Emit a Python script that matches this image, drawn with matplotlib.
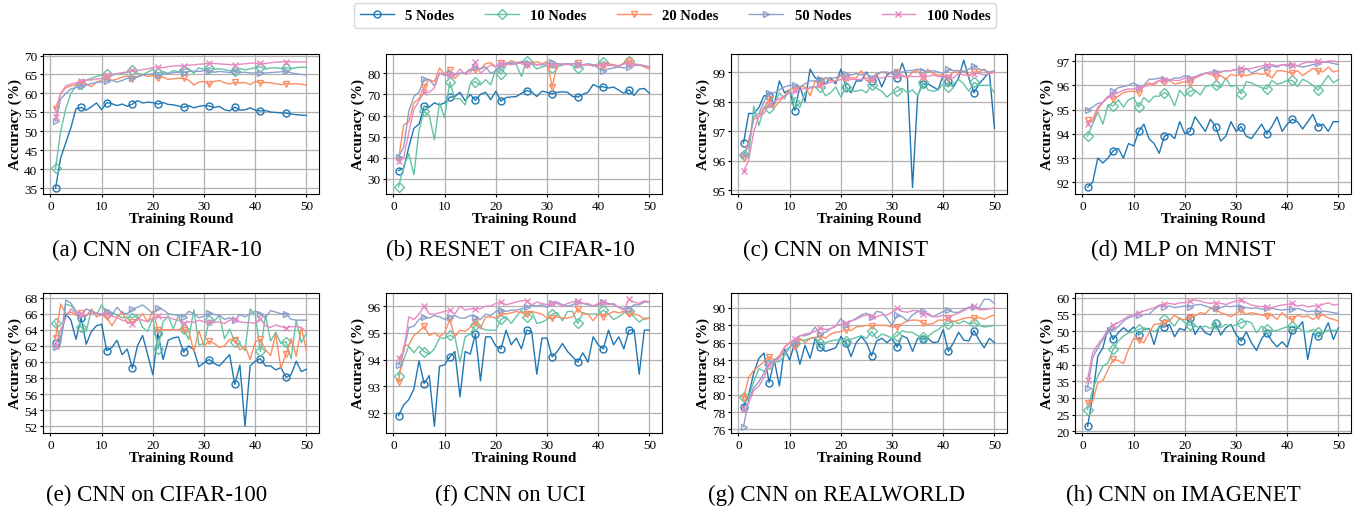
import numpy as np
import matplotlib
matplotlib.use('Agg')
import matplotlib.pyplot as plt

#=========================================================================
# data, one list per node count, 50 training rounds

rounds = np.arange(1, 51)

node_labels = ['5 Nodes', '10 Nodes', '20 Nodes', '50 Nodes', '100 Nodes']

captions = ['(a) CNN on CIFAR-10', '(b) RESNET on CIFAR-10', '(c) CNN on MNIST', '(d) MLP on MNIST',
            '(e) CNN on CIFAR-100', '(f) CNN on UCI', '(g) CNN on REALWORLD', '(h) CNN on IMAGENET']

# (a) CNN on CIFAR-10
cifar10_cnn_5 = [35.0, 43.0, 47.0, 51.0, 56.0, 56.3, 55.6, 56.5, 57.5, 55.7, 57.6, 57.3, 56.8, 57.2, 56.6, 57.2, 58.1, 57.5, 57.7, 57.6,
                 57.2, 57.6, 57.1, 57.0, 56.7, 56.3, 56.8, 56.2, 56.6, 56.8, 56.7, 56.3, 56.6, 55.7, 55.4, 56.4, 55.6, 55.7, 56.2, 55.6,
                 55.4, 55.5, 55.1, 55.0, 54.9, 54.8, 54.6, 54.4, 54.3, 54.2]
cifar10_cnn_10 = [40.3, 50.0, 56.0, 60.0, 62.0, 62.5, 63.5, 64.0, 64.5, 64.8, 65.0, 64.8, 65.1, 65.3, 65.5, 66.1, 65.3, 65.0, 65.6, 66.4,
                  65.4, 65.8, 65.3, 66.0, 65.7, 66.3, 66.5, 65.3, 66.8, 66.3, 66.8, 66.4, 66.5, 66.3, 66.0, 66.0, 66.6, 66.2, 66.5, 66.8,
                  67.0, 66.5, 66.7, 66.8, 66.6, 66.8, 66.5, 66.8, 66.9, 66.9]
cifar10_cnn_20 = [56.0, 60.0, 61.5, 62.0, 62.3, 62.8, 62.5, 61.8, 63.0, 63.5, 64.3, 63.4, 63.8, 64.3, 64.6, 63.8, 64.5, 64.9, 64.5, 64.7,
                  64.1, 64.3, 63.7, 63.9, 64.0, 64.0, 63.5, 62.2, 63.0, 63.2, 62.4, 63.2, 63.4, 62.8, 62.5, 62.9, 62.8, 62.9, 62.3, 63.2,
                  62.8, 62.9, 62.8, 62.6, 62.3, 62.6, 62.5, 62.6, 62.4, 62.2]
cifar10_cnn_50 = [52.8, 58.5, 60.0, 61.2, 61.5, 62.0, 62.2, 62.6, 62.9, 63.0, 63.2, 63.5, 63.0, 63.4, 64.0, 64.0, 64.3, 64.8, 65.0, 65.2,
                  64.8, 65.3, 65.2, 65.5, 65.6, 65.5, 65.8, 65.9, 65.8, 66.0, 65.9, 65.6, 65.8, 65.7, 65.5, 65.8, 65.5, 65.6, 65.4, 65.4,
                  65.5, 65.4, 65.5, 65.6, 65.7, 65.9, 65.4, 65.2, 65.0, 64.9]
cifar10_cnn_100 = [53.8, 60.0, 62.0, 62.5, 62.8, 63.3, 63.5, 63.6, 63.8, 64.0, 64.8, 65.0, 65.2, 65.5, 65.7, 66.1, 66.0, 66.3, 66.5, 66.8,
                   67.0, 66.8, 67.1, 67.2, 67.3, 67.3, 67.5, 67.5, 67.7, 67.8, 68.0, 67.9, 67.8, 67.7, 67.6, 67.5, 67.7, 67.8, 68.0, 68.0,
                   67.9, 67.9, 68.1, 68.2, 68.3, 68.4, 68.3, 68.3, 68.3, 68.3]

# (b) RESNET on CIFAR-10
cifar10_resnet_5 = [34.0, 35.0, 45.0, 54.0, 56.0, 64.5, 64.0, 66.0, 65.0, 66.0, 68.7, 69.0, 71.0, 67.0, 70.0, 67.2, 70.0, 71.0, 67.5, 71.5,
                    66.8, 68.5, 68.8, 69.0, 70.5, 71.8, 71.2, 69.0, 71.5, 71.0, 70.3, 71.0, 71.2, 71.0, 69.0, 68.8, 70.0, 71.0, 74.7, 73.5,
                    73.6, 73.0, 73.5, 72.0, 70.5, 72.2, 69.5, 72.5, 72.8, 70.5]
cifar10_resnet_10 = [26.2, 36.0, 42.0, 32.0, 53.0, 62.0, 60.0, 48.5, 66.0, 59.0, 76.0, 68.0, 68.0, 65.0, 75.0, 76.0, 74.5, 77.0, 74.5, 82.0,
                     79.5, 84.0, 85.0, 84.0, 78.5, 86.0, 84.5, 82.0, 83.0, 83.5, 82.5, 83.0, 84.0, 84.5, 83.5, 82.5, 84.0, 84.0, 83.5, 84.5,
                     85.5, 84.5, 83.5, 83.5, 84.5, 86.0, 84.0, 84.0, 83.5, 83.0]
cifar10_resnet_20 = [39.0, 55.5, 57.0, 66.0, 68.0, 73.5, 77.0, 76.0, 82.5, 79.5, 81.5, 77.5, 80.0, 80.0, 82.0, 81.5, 82.0, 84.5, 85.0, 83.0,
                     85.0, 84.0, 86.0, 85.0, 84.5, 84.0, 85.0, 85.5, 84.5, 85.5, 73.5, 84.5, 84.0, 84.5, 84.5, 85.0, 84.0, 84.0, 84.0, 83.5,
                     83.5, 84.5, 84.0, 83.0, 85.0, 86.0, 84.5, 84.0, 83.0, 82.0]
cifar10_resnet_50 = [40.5, 45.0, 62.0, 69.0, 71.0, 77.5, 77.0, 74.0, 80.0, 79.0, 80.0, 79.5, 80.0, 80.0, 81.5, 83.0, 82.0, 83.0, 80.0, 81.0,
                     83.5, 85.0, 84.5, 85.0, 85.5, 84.5, 85.0, 84.0, 84.0, 84.5, 85.5, 84.5, 84.0, 84.5, 84.5, 84.5, 84.0, 84.5, 84.0, 82.5,
                     81.0, 82.0, 82.5, 83.0, 82.5, 83.0, 83.5, 84.0, 83.5, 83.0]
cifar10_resnet_100 = [38.5, 40.0, 52.0, 63.0, 67.0, 71.0, 71.0, 73.0, 80.0, 80.0, 79.0, 79.0, 82.0, 79.5, 80.0, 85.5, 80.0, 82.0, 84.0, 83.0,
                      85.0, 84.5, 84.0, 84.5, 85.0, 84.5, 84.5, 84.0, 84.5, 83.5, 84.0, 84.0, 84.5, 84.0, 84.5, 84.0, 84.0, 84.0, 83.5, 84.0,
                      84.0, 83.5, 84.0, 83.5, 84.5, 84.5, 84.0, 84.0, 83.5, 82.5]

# (c) CNN on MNIST
mnist_cnn_5 = [96.6, 97.6, 97.6, 97.8, 98.2, 98.2, 97.9, 98.7, 98.3, 98.4, 97.7, 98.5, 98.0, 99.1, 98.8, 98.7, 98.6, 98.8, 98.6, 99.1,
               98.5, 98.3, 98.7, 98.7, 99.0, 98.7, 98.9, 98.5, 98.9, 99.0, 98.8, 99.3, 98.8, 95.1, 98.2, 98.6, 98.6, 98.5, 98.4, 98.9,
               98.7, 98.5, 98.8, 99.4, 98.8, 98.3, 98.6, 98.8, 99.0, 97.1]
mnist_cnn_10 = [96.2, 96.2, 97.85, 97.2, 97.8, 97.8, 97.9, 98.3, 98.1, 98.4, 98.0, 97.8, 98.3, 98.5, 98.5, 98.5, 98.2, 98.3, 98.5, 98.15,
                98.5, 98.35, 98.35, 98.4, 98.3, 98.55, 98.45, 98.35, 98.15, 98.3, 98.35, 98.45, 98.3, 98.4, 98.2, 98.65, 98.4, 98.35, 98.4, 98.6,
                98.5, 98.6, 98.75, 98.6, 98.35, 98.65, 98.55, 98.55, 98.55, 98.3]
mnist_cnn_20 = [96.1, 96.7, 97.4, 97.5, 97.8, 98.1, 97.8, 98.0, 98.2, 98.4, 98.45, 98.5, 98.5, 98.2, 98.7, 98.6, 98.8, 98.7, 98.7, 98.9,
                98.8, 98.8, 98.8, 99.05, 98.7, 98.75, 98.9, 99.0, 98.95, 99.0, 99.0, 98.9, 98.8, 99.0, 99.05, 98.8, 99.1, 98.95, 98.9, 98.9,
                98.8, 99.0, 99.0, 99.05, 98.85, 99.0, 99.0, 99.1, 98.95, 99.0]
mnist_cnn_50 = [96.2, 96.5, 97.5, 97.6, 98.0, 98.3, 98.3, 98.4, 98.5, 98.55, 98.55, 98.5, 98.6, 98.7, 98.7, 98.75, 98.8, 98.8, 98.8, 98.9,
                98.95, 98.9, 98.95, 98.9, 98.95, 98.8, 98.95, 99.0, 99.0, 98.95, 99.0, 99.0, 99.05, 99.05, 99.1, 99.05, 99.0, 99.05, 99.0, 98.95,
                99.1, 99.05, 99.05, 99.0, 99.1, 99.2, 99.1, 99.05, 99.0, 99.05]
mnist_cnn_100 = [95.65, 96.0, 97.0, 97.5, 97.6, 97.9, 98.0, 98.1, 98.2, 98.3, 98.35, 98.4, 98.45, 98.45, 98.5, 98.55, 98.6, 98.65, 98.7, 98.75,
                 98.8, 98.75, 98.75, 98.75, 98.8, 98.75, 98.8, 98.8, 98.85, 98.85, 98.85, 98.85, 98.85, 98.85, 98.85, 98.85, 98.85, 98.9, 98.85, 98.85,
                 98.85, 98.8, 98.95, 98.9, 98.9, 98.95, 98.95, 98.9, 98.95, 99.0]

# (d) MLP on MNIST
mnist_mlp_5 = [91.8, 92.0, 93.0, 92.8, 93.0, 93.3, 93.4, 93.0, 93.6, 93.5, 94.1, 94.4, 93.8, 93.6, 93.2, 93.9, 94.0, 93.8, 94.5, 94.0,
               94.1, 94.7, 94.4, 94.1, 94.6, 94.3, 93.7, 93.9, 94.5, 94.1, 94.3, 93.9, 93.8, 94.1, 94.4, 94.0, 94.3, 94.7, 94.1, 94.4,
               94.6, 94.5, 94.2, 94.5, 94.8, 94.3, 94.4, 94.1, 94.5, 94.5]
mnist_mlp_10 = [93.9, 94.4, 94.9, 94.4, 95.2, 95.15, 95.4, 95.1, 95.4, 95.5, 95.1, 95.5, 95.3, 95.55, 95.55, 95.7, 95.6, 95.15, 95.8, 95.55,
                95.75, 95.8, 95.6, 95.95, 96.0, 96.0, 95.9, 96.3, 95.95, 96.0, 95.65, 96.15, 96.1, 96.0, 95.9, 95.85, 96.2, 96.05, 96.1, 96.2,
                96.2, 95.95, 96.25, 96.15, 96.0, 95.8, 96.1, 96.4, 96.1, 96.25]
mnist_mlp_20 = [94.55, 94.5, 95.0, 95.3, 95.55, 95.45, 95.55, 95.7, 95.75, 95.75, 95.7, 95.95, 96.1, 96.0, 96.2, 96.15, 96.2, 96.05, 96.1, 96.15,
                96.1, 96.3, 96.4, 96.5, 96.45, 96.35, 96.4, 96.25, 96.45, 96.4, 96.45, 96.4, 96.45, 96.5, 96.45, 96.5, 96.3, 96.6, 96.6, 96.55,
                96.5, 96.6, 96.4, 96.55, 96.7, 96.6, 96.55, 96.75, 96.55, 96.6]
mnist_mlp_50 = [95.0, 95.1, 95.25, 95.3, 95.5, 95.75, 95.9, 95.95, 96.0, 96.1, 95.95, 96.0, 96.25, 96.25, 96.3, 96.25, 96.2, 96.3, 96.3, 96.4,
                96.3, 96.35, 96.45, 96.5, 96.55, 96.55, 96.55, 96.6, 96.6, 96.65, 96.65, 96.7, 96.5, 96.6, 96.7, 96.75, 96.8, 96.75, 96.85, 96.8,
                96.85, 96.8, 96.75, 96.8, 96.85, 96.9, 96.95, 96.95, 96.9, 96.85]
mnist_mlp_100 = [94.4, 94.6, 95.1, 95.3, 95.5, 95.6, 95.7, 95.8, 95.85, 95.85, 95.9, 95.95, 96.0, 96.1, 96.2, 96.2, 96.25, 96.2, 96.2, 96.3,
                 96.25, 96.35, 96.4, 96.5, 96.5, 96.5, 96.55, 96.6, 96.6, 96.65, 96.7, 96.65, 96.7, 96.75, 96.8, 96.85, 96.85, 96.8, 96.85, 96.85,
                 96.85, 96.8, 96.9, 96.95, 96.95, 97.0, 96.95, 97.0, 97.0, 96.95]

# (e) CNN on CIFAR-100
cifar100_cnn_5 = [62.3, 63.0, 66.0, 65.2, 62.8, 65.5, 62.2, 63.8, 64.5, 64.7, 61.4, 61.8, 62.7, 60.9, 61.6, 59.2, 62.0, 63.3, 60.9, 58.4,
                  63.6, 60.3, 62.7, 63.0, 63.1, 61.2, 62.0, 61.5, 59.4, 59.9, 60.3, 59.8, 59.5, 60.2, 60.9, 57.2, 59.6, 52.0, 59.5, 60.1,
                  60.4, 59.5, 59.5, 59.0, 59.3, 58.1, 58.4, 60.1, 58.8, 59.1]
cifar100_cnn_10 = [64.9, 62.5, 67.2, 67.0, 66.3, 64.3, 63.8, 66.5, 65.8, 67.1, 66.0, 66.2, 65.8, 65.5, 65.6, 65.5, 65.8, 64.3, 63.8, 65.5,
                   61.6, 65.0, 65.7, 64.1, 65.8, 64.1, 62.8, 66.5, 62.1, 62.3, 65.2, 65.1, 65.8, 62.9, 64.1, 62.5, 62.2, 61.4, 66.6, 65.8,
                   61.3, 65.8, 62.6, 63.7, 62.3, 62.5, 60.4, 65.2, 62.4, 63.6]
cifar100_cnn_20 = [63.0, 67.2, 66.0, 66.2, 65.8, 66.1, 65.7, 66.6, 65.6, 65.9, 65.6, 64.5, 65.5, 66.3, 64.8, 65.0, 65.2, 66.0, 65.0, 66.3,
                   64.0, 64.0, 64.0, 64.0, 64.0, 64.0, 63.9, 61.3, 63.9, 62.0, 62.6, 62.3, 61.8, 62.0, 62.8, 62.7, 61.5, 62.0, 60.3, 62.5,
                   62.8, 61.5, 60.8, 63.5, 59.2, 61.0, 62.9, 60.7, 64.3, 61.4]
cifar100_cnn_50 = [61.9, 62.5, 67.7, 67.3, 66.3, 65.8, 66.6, 66.3, 66.1, 65.8, 66.3, 65.8, 66.8, 66.1, 66.0, 66.6, 66.8, 67.1, 66.6, 66.0,
                   66.7, 66.5, 66.0, 65.9, 65.8, 65.6, 66.3, 66.0, 65.5, 65.7, 66.1, 65.9, 65.8, 65.3, 65.5, 65.2, 65.9, 65.6, 66.0, 66.3,
                   66.0, 65.5, 66.4, 66.2, 66.0, 66.0, 65.3, 65.2, 65.2, 65.2]
cifar100_cnn_100 = [62.0, 64.0, 65.5, 66.6, 66.0, 66.0, 65.8, 66.1, 66.0, 66.0, 66.0, 65.7, 65.5, 65.2, 65.0, 64.7, 65.3, 65.2, 65.0, 65.5,
                    65.7, 65.5, 65.6, 65.3, 65.2, 64.8, 65.0, 64.9, 65.2, 65.0, 65.0, 64.9, 65.0, 64.8, 65.2, 65.3, 65.0, 64.9, 64.9, 64.8,
                    65.4, 64.5, 64.3, 64.6, 64.4, 64.2, 64.4, 64.4, 64.3, 63.7]

# (f) CNN on UCI
uci_cnn_5 = [91.9, 92.3, 92.5, 92.9, 93.95, 93.1, 93.4, 91.5, 93.75, 93.8, 94.1, 94.3, 92.6, 94.3, 94.2, 94.95, 93.2, 94.85, 94.85, 94.5,
             94.4, 95.1, 94.55, 94.8, 94.4, 95.1, 95.05, 93.45, 94.8, 94.8, 94.1, 94.3, 94.6, 94.3, 94.1, 93.9, 94.25, 93.9, 94.85, 94.55,
             94.4, 95.1, 94.55, 94.85, 94.4, 95.1, 95.1, 93.45, 95.1, 95.1]
uci_cnn_10 = [93.4, 94.0, 94.5, 94.25, 94.5, 94.3, 94.2, 94.4, 94.8, 94.8, 94.9, 94.85, 93.9, 94.85, 94.95, 95.3, 95.2, 95.1, 95.1, 95.1,
              95.5, 95.6, 95.35, 95.6, 95.85, 95.6, 95.8, 95.35, 95.4, 95.5, 95.7, 95.75, 95.45, 95.8, 95.8, 95.35, 95.75, 95.7, 95.7, 95.7,
              95.85, 95.7, 95.5, 95.6, 95.75, 95.8, 95.6, 95.4, 95.55, 95.55]
uci_cnn_20 = [93.15, 94.5, 94.55, 94.9, 95.05, 95.25, 94.9, 95.0, 94.85, 95.0, 95.5, 94.85, 95.1, 95.05, 95.2, 95.4, 95.15, 95.6, 95.6, 95.55,
              95.75, 95.7, 95.75, 95.8, 95.75, 95.7, 95.8, 95.75, 95.7, 95.55, 95.55, 95.6, 95.55, 95.55, 95.6, 95.9, 95.7, 95.7, 95.45, 95.7,
              95.6, 95.7, 95.8, 95.75, 95.8, 95.7, 95.7, 95.65, 95.5, 95.55]
uci_cnn_50 = [93.8, 94.3, 95.2, 95.25, 95.5, 95.6, 95.55, 95.65, 95.6, 95.5, 95.6, 95.65, 95.55, 95.55, 95.65, 95.6, 95.5, 95.7, 95.65, 95.8,
              95.85, 95.8, 95.85, 95.85, 95.9, 95.95, 96.05, 96.0, 96.05, 95.95, 96.1, 96.15, 96.05, 96.0, 96.05, 96.15, 96.1, 96.05, 96.0, 96.05,
              96.15, 96.1, 96.05, 95.95, 95.9, 95.9, 96.05, 96.05, 96.15, 96.15]
uci_cnn_100 = [94.05, 94.3, 95.6, 95.5, 95.7, 96.0, 95.7, 95.7, 95.75, 95.8, 95.85, 95.7, 96.0, 95.85, 95.9, 95.9, 95.9, 96.0, 96.0, 96.1,
               96.15, 96.05, 96.1, 96.15, 96.2, 96.2, 96.05, 96.15, 96.1, 96.05, 96.1, 96.1, 96.0, 96.1, 96.15, 96.2, 96.1, 96.1, 96.0, 96.1,
               96.15, 96.05, 96.1, 95.95, 95.85, 96.25, 96.15, 96.1, 96.2, 96.15]

# (g) CNN on REALWORLD
realworld_cnn_5 = [78.6, 80.0, 82.5, 84.2, 84.8, 81.4, 84.0, 81.0, 85.3, 84.0, 86.0, 83.5, 85.7, 84.2, 86.5, 85.5, 85.0, 85.2, 85.4, 86.7,
                   86.0, 84.4, 86.0, 86.7, 86.0, 84.5, 86.2, 86.5, 86.0, 86.5, 85.5, 86.8, 86.5, 85.0, 86.5, 86.4, 86.5, 86.0, 86.1, 87.5,
                   85.0, 86.0, 87.2, 86.3, 86.2, 87.4, 86.3, 85.4, 86.5, 86.0]
realworld_cnn_10 = [79.7, 79.8, 81.5, 83.0, 82.7, 83.5, 83.8, 83.8, 84.5, 85.5, 86.0, 86.3, 86.3, 86.5, 86.5, 86.0, 86.0, 86.2, 86.3, 86.4,
                    86.2, 86.4, 86.6, 86.8, 86.5, 87.3, 86.5, 87.0, 86.8, 86.5, 86.8, 87.4, 87.2, 87.2, 86.8, 86.6, 86.7, 87.2, 87.5, 88.0,
                    88.2, 88.5, 88.2, 88.5, 88.2, 88.3, 88.0, 87.8, 87.9, 88.0]
realworld_cnn_20 = [79.6, 82.0, 82.8, 83.3, 83.8, 84.4, 84.0, 84.5, 85.5, 86.0, 85.5, 86.5, 86.0, 86.5, 86.6, 86.8, 86.5, 87.0, 87.2, 87.3,
                    87.5, 87.4, 87.8, 87.9, 88.0, 87.9, 88.0, 88.0, 88.0, 87.8, 87.8, 88.2, 88.5, 88.6, 88.6, 88.3, 88.1, 88.2, 88.6, 88.6,
                    88.8, 88.4, 88.6, 88.8, 88.9, 88.8, 88.9, 88.7, 89.0, 89.2]
realworld_cnn_50 = [76.3, 79.5, 80.8, 81.5, 82.5, 83.6, 84.0, 84.3, 85.0, 85.5, 86.0, 86.8, 86.8, 87.0, 87.8, 87.0, 87.2, 87.6, 87.9, 88.8,
                    88.0, 88.5, 88.8, 89.2, 89.4, 89.0, 89.6, 89.5, 88.8, 88.0, 89.2, 89.0, 88.5, 89.2, 89.6, 89.6, 89.2, 89.0, 89.3, 89.6,
                    89.8, 89.5, 89.5, 89.8, 90.1, 90.1, 90.0, 91.0, 91.0, 90.5]
realworld_cnn_100 = [78.4, 79.0, 80.5, 81.0, 82.0, 83.4, 83.8, 84.2, 85.5, 86.0, 86.4, 86.8, 87.0, 87.1, 87.3, 87.7, 87.5, 87.6, 88.0, 88.1,
                     88.3, 88.5, 88.7, 89.0, 89.2, 89.1, 89.0, 89.2, 89.2, 89.5, 90.0, 89.6, 89.5, 89.7, 89.7, 89.3, 89.4, 89.0, 89.0, 89.2,
                     88.9, 89.2, 89.4, 89.7, 90.0, 90.2, 89.8, 89.8, 89.9, 90.0]

# (h) CNN on IMAGENET
imagenet_cnn_5 = [21.5, 30.5, 42.5, 45.0, 51.0, 47.5, 49.5, 51.0, 49.8, 51.2, 48.8, 50.5, 50.8, 46.0, 51.5, 51.2, 52.0, 48.3, 50.8, 50.2,
                  54.0, 49.0, 51.5, 49.5, 48.8, 52.5, 48.8, 51.0, 52.0, 49.0, 47.0, 49.8, 46.5, 44.2, 47.8, 49.5, 47.0, 45.3, 46.8, 45.2,
                  50.2, 50.8, 52.8, 41.5, 49.2, 48.5, 49.2, 52.5, 47.5, 51.0]
imagenet_cnn_10 = [26.5, 32.5, 36.5, 39.5, 40.5, 44.5, 47.0, 48.5, 49.5, 49.7, 50.5, 51.0, 50.5, 49.8, 51.0, 53.5, 53.0, 51.5, 54.0, 52.5,
                   51.8, 51.5, 51.0, 51.5, 50.8, 52.0, 51.0, 52.0, 51.5, 51.8, 52.5, 53.0, 52.5, 49.5, 51.5, 50.5, 50.0, 50.2, 50.8, 51.3,
                   51.5, 51.3, 50.0, 49.8, 50.5, 49.8, 49.5, 50.3, 50.2, 50.3]
imagenet_cnn_20 = [28.5, 29.0, 34.5, 35.2, 38.5, 41.5, 41.2, 40.3, 44.5, 47.8, 47.3, 46.5, 49.5, 52.0, 52.2, 52.5, 53.0, 54.8, 53.5, 53.5,
                   54.2, 54.5, 55.5, 55.2, 56.8, 56.5, 55.5, 55.0, 54.3, 55.3, 56.2, 55.0, 55.5, 55.2, 54.8, 54.5, 54.8, 53.5, 55.5, 54.0,
                   53.5, 54.8, 54.2, 54.5, 53.5, 54.5, 54.8, 54.0, 53.5, 53.0]
imagenet_cnn_50 = [33.0, 42.0, 45.0, 47.5, 49.5, 50.8, 51.3, 53.0, 54.0, 54.5, 54.8, 55.0, 55.0, 56.5, 57.5, 57.3, 57.5, 57.0, 57.3, 57.5,
                   57.2, 57.8, 58.0, 57.5, 57.0, 56.8, 57.0, 57.5, 57.3, 57.5, 57.3, 57.0, 56.8, 57.0, 56.5, 56.8, 56.8, 56.5, 56.3, 56.5,
                   56.5, 56.8, 56.3, 55.8, 56.0, 55.8, 56.0, 55.8, 55.5, 55.3]
imagenet_cnn_100 = [35.5, 43.5, 46.0, 48.0, 50.5, 51.8, 52.5, 53.5, 54.5, 55.0, 55.5, 56.0, 56.5, 57.0, 57.8, 58.0, 58.3, 58.0, 58.5, 58.5,
                    59.0, 59.3, 59.0, 58.5, 58.3, 58.5, 58.3, 58.0, 58.5, 59.0, 59.3, 58.5, 57.8, 57.5, 57.3, 57.3, 57.0, 57.5, 57.8, 58.0,
                    58.3, 57.5, 57.8, 57.2, 57.5, 57.5, 58.0, 58.5, 57.8, 58.0]

#=========================================================================

panels = [
    [cifar10_cnn_5, cifar10_cnn_10, cifar10_cnn_20, cifar10_cnn_50, cifar10_cnn_100],
    [cifar10_resnet_5, cifar10_resnet_10, cifar10_resnet_20, cifar10_resnet_50, cifar10_resnet_100],
    [mnist_cnn_5, mnist_cnn_10, mnist_cnn_20, mnist_cnn_50, mnist_cnn_100],
    [mnist_mlp_5, mnist_mlp_10, mnist_mlp_20, mnist_mlp_50, mnist_mlp_100],
    [cifar100_cnn_5, cifar100_cnn_10, cifar100_cnn_20, cifar100_cnn_50, cifar100_cnn_100],
    [uci_cnn_5, uci_cnn_10, uci_cnn_20, uci_cnn_50, uci_cnn_100],
    [realworld_cnn_5, realworld_cnn_10, realworld_cnn_20, realworld_cnn_50, realworld_cnn_100],
    [imagenet_cnn_5, imagenet_cnn_10, imagenet_cnn_20, imagenet_cnn_50, imagenet_cnn_100],
]

# axis ranges and tick steps per panel
y_limits = [(33.5, 70.4), (22.9, 89.1), (94.88, 99.61), (91.52, 97.29),
            (51.15, 68.58), (91.25, 96.49), (75.58, 91.73), (19.5, 61.4)]
y_ticks = [np.arange(35, 71, 5), np.arange(30, 81, 10), np.arange(95, 100, 1), np.arange(92, 98, 1),
           np.arange(52, 69, 2), np.arange(92, 97, 1), np.arange(76, 91, 2), np.arange(20, 61, 5)]

colors = ['#1f77b4', '#66c2a5', '#fc8d62', '#8da0cb', '#e78ac3']
markers = ['o', 'D', 'v', '>', 'x']

plt.rcParams['font.family'] = ['Liberation Serif', 'DejaVu Serif']

fig = plt.figure(figsize=(13.6, 5.1), dpi=100)
W, H = 1360.0, 510.0

lefts = [43, 386, 731, 1075]
tops = [55, 294]
ax_w, ax_h = 276, 140
cap_x = [157, 510, 836, 1183]
cap_y = [250, 495]

for i, series in enumerate(panels):
    row, col = divmod(i, 4)
    ax = fig.add_axes([lefts[col] / W, 1 - (tops[row] + ax_h) / H, ax_w / W, ax_h / H])
    for j, vals in enumerate(series):
        ax.plot(rounds, vals, color=colors[j], marker=markers[j], markevery=5, markersize=5,
                markerfacecolor='none', linewidth=1.0, label=node_labels[j])
    ax.set_ylim(*y_limits[i])
    ax.set_yticks(y_ticks[i])
    ax.set_xticks(np.arange(0, 51, 10))
    ax.grid(True, color='#b0b0b0', linewidth=0.9)
    ax.tick_params(labelsize=9.5, length=2.5, pad=1.5)
    ax.set_xlabel('Training Round', fontsize=11, fontweight='bold', labelpad=0.5)
    ax.set_ylabel('Accuracy (%)', fontsize=11, fontweight='bold', labelpad=1.5)
    fig.text(cap_x[col] / W, 1 - cap_y[row] / H, captions[i], ha='center', va='center', fontsize=16.5)
    if i == 0:
        handles, labels = ax.get_legend_handles_labels()

fig.legend(handles, labels, loc='upper center', bbox_to_anchor=(0.4965, 1.0), ncol=5,
           prop={'weight': 'bold', 'size': 10.5}, frameon=True, fancybox=True,
           borderaxespad=0.25, handlelength=2.3, columnspacing=2.1)

fig.savefig('out.png', dpi=100)
